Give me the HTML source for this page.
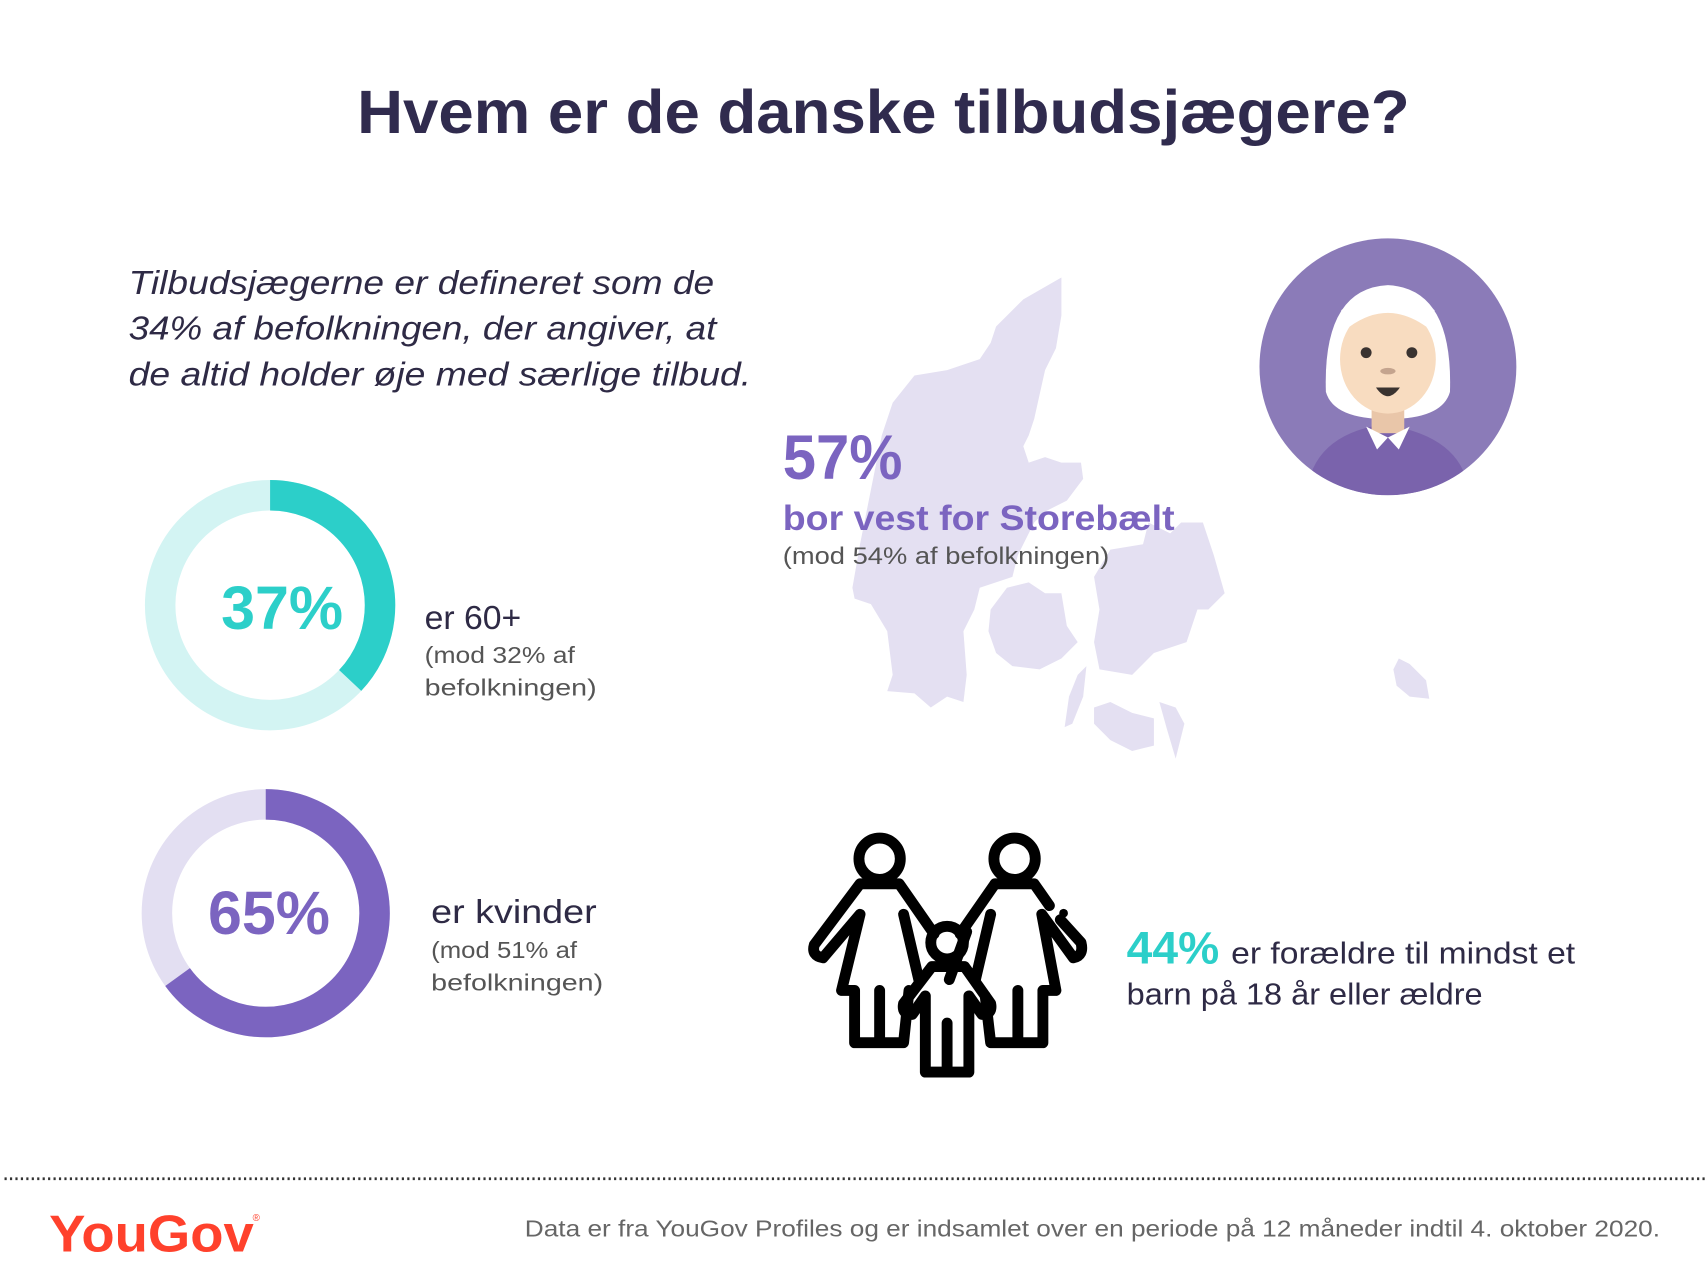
<!DOCTYPE html>
<html><head><meta charset="utf-8"><style>
html,body{margin:0;padding:0;background:#fff;width:1707px;height:1280px;overflow:hidden}
svg{display:block}
text{font-family:"Liberation Sans","DejaVu Sans",sans-serif}
</style></head><body>
<svg width="1707" height="1280" viewBox="0 0 1568 1176" xmlns="http://www.w3.org/2000/svg">
<rect width="1568" height="1176" fill="#fff"/>
<text x="328" y="122" font-size="56" font-weight="bold" fill="#302b4e" textLength="967" lengthAdjust="spacingAndGlyphs">Hvem er de danske tilbudsjægere?</text>
<g font-size="31" font-style="italic" fill="#2e2a45">
<text x="118" y="270" textLength="538" lengthAdjust="spacingAndGlyphs">Tilbudsjægerne er defineret som de</text>
<text x="118" y="312" textLength="540" lengthAdjust="spacingAndGlyphs">34% af befolkningen, der angiver, at</text>
<text x="118" y="354" textLength="572" lengthAdjust="spacingAndGlyphs">de altid holder øje med særlige tilbud.</text>
</g>
<!-- map -->
<g fill="#e4e0f2">
<polygon points="975,255 940,275 915,300 910,315 900,330 870,340 840,345 820,370 810,400 800,450 790,500 783,540 785,550 800,555 815,580 820,620 815,635 840,637 855,650 870,640 885,645 888,620 885,580 895,560 900,540 930,530 935,510 950,480 960,470 980,460 995,440 993,425 975,425 960,420 945,425 940,410 945,400 950,385 960,340 970,320 975,290"/>
<polygon points="910,560 925,540 945,535 960,545 975,545 980,575 990,590 975,605 955,615 930,612 915,600 908,580"/>
<polygon points="1005,530 1020,505 1050,500 1055,480 1075,490 1085,480 1105,480 1115,510 1125,545 1110,560 1100,560 1090,590 1060,600 1040,620 1010,615 1005,590 1010,560"/>
<polygon points="1005,650 1020,645 1040,655 1060,660 1060,685 1040,690 1020,680 1005,665"/>
<polygon points="1065,645 1080,650 1088,665 1080,697 1072,670"/>
<polygon points="1285,605 1295,610 1310,625 1313,642 1295,640 1283,630 1280,615"/>
<polygon points="990,620 998,612 995,640 985,665 978,668 982,640"/>
</g>
<!-- avatar -->
<defs><clipPath id="c"><circle cx="1275" cy="337" r="118"/></clipPath></defs>
<g clip-path="url(#c)">
<rect x="1150" y="215" width="250" height="240" fill="#8b7bb8"/>
<path d="M1200,455 Q1205,400 1270,390 Q1345,400 1350,455 Z" fill="#7a63ac"/>
<path d="M1218,360 Q1215,265 1275,262 Q1335,265 1332,360 Q1325,385 1275,385 Q1225,385 1218,360Z" fill="#fff"/>
<rect x="1260" y="370" width="30" height="28" fill="#e9c6a9"/>
<ellipse cx="1275" cy="330" rx="44" ry="50" fill="#f8dcc0"/>
<path d="M1240,300 Q1275,275 1310,300 L1318,285 Q1275,255 1232,285Z" fill="#fff"/>
<circle cx="1255" cy="324" r="5" fill="#3a3330"/><circle cx="1297" cy="324" r="5" fill="#3a3330"/>
<ellipse cx="1275" cy="341" rx="7" ry="3" fill="#c4a48e"/>
<path d="M1264,356 Q1275,372 1286,356Z" fill="#3a3330"/>
<path d="M1255,392 L1275,402 L1265,413Z M1295,392 L1275,402 L1285,413Z" fill="#fff"/>
</g>
<text x="719" y="440" font-size="58" font-weight="bold" fill="#7b64c0" textLength="110" lengthAdjust="spacingAndGlyphs">57%</text>
<text x="719" y="487" font-size="32" font-weight="bold" fill="#7b64c0" textLength="360" lengthAdjust="spacingAndGlyphs">bor vest for Storebælt</text>
<text x="719" y="518" font-size="22" fill="#555" textLength="300" lengthAdjust="spacingAndGlyphs">(mod 54% af befolkningen)</text>
<!-- donut 1 -->
<circle cx="248" cy="556" r="101" fill="none" stroke="#d3f4f3" stroke-width="28"/>
<circle cx="248" cy="556" r="101" fill="none" stroke="#2ccfc9" stroke-width="28" stroke-dasharray="234.8 1000" transform="rotate(-90 248 556)"/>
<text x="259" y="578" text-anchor="middle" font-size="56" font-weight="bold" fill="#2ccfc9">37%</text>
<text x="390" y="578" font-size="31" fill="#2e2a45">er 60+</text>
<text x="390" y="609" font-size="21" fill="#555" textLength="138" lengthAdjust="spacingAndGlyphs">(mod 32% af</text>
<text x="390" y="639" font-size="21" fill="#555" textLength="158" lengthAdjust="spacingAndGlyphs">befolkningen)</text>
<!-- donut 2 -->
<circle cx="244" cy="839" r="100" fill="none" stroke="#e3dff2" stroke-width="28"/>
<circle cx="244" cy="839" r="100" fill="none" stroke="#7b64c0" stroke-width="28" stroke-dasharray="408.4 1000" transform="rotate(-90 244 839)"/>
<text x="247" y="858" text-anchor="middle" font-size="56" font-weight="bold" fill="#7b64c0">65%</text>
<text x="396" y="848" font-size="31" fill="#2e2a45" textLength="152" lengthAdjust="spacingAndGlyphs">er kvinder</text>
<text x="396" y="880" font-size="21" fill="#555" textLength="134" lengthAdjust="spacingAndGlyphs">(mod 51% af</text>
<text x="396" y="910" font-size="21" fill="#555" textLength="158" lengthAdjust="spacingAndGlyphs">befolkningen)</text>
<!-- family -->
<g fill="none" stroke="#000" stroke-width="10" stroke-linejoin="round" stroke-linecap="round">
<circle cx="808" cy="789" r="19"/>
<circle cx="932" cy="789" r="19"/>
<circle cx="870" cy="866" r="15"/>
<path d="M790,812 L826,812 L858,858 M790,812 L748,868 Q745,878 756,880 L790,840 L773,910 L785,910 L785,958 L830,958 L835,910"/>
<path d="M830,840 L844,900 M872,900 L888,856"/>
<path d="M914,812 L950,812 L964,832 M974,845 L993,866 Q996,878 986,880 L957,840 L970,910 L958,910 L958,958 L910,958 L905,915"/>
<path d="M914,812 L882,858 M910,840 L896,900"/>
<path d="M856,888 L886,888 L910,922 Q912,932 902,932 L890,915 L890,985 L850,985 L850,915 L838,932 Q828,932 830,922 Z"/>
<path d="M808,910 L808,955 M935,910 L935,955 M870,940 L870,983"/>
</g>
<circle cx="977" cy="839" r="4" fill="#000"/>
<text x="1035" y="885" font-size="42" font-weight="bold" fill="#2ccfc9" textLength="85" lengthAdjust="spacingAndGlyphs">44%</text>
<text x="1131" y="885" font-size="28" fill="#2e2a45" textLength="316" lengthAdjust="spacingAndGlyphs">er forældre til mindst et</text>
<text x="1035" y="923" font-size="28" fill="#2e2a45" textLength="327" lengthAdjust="spacingAndGlyphs">barn på 18 år eller ældre</text>
<line x1="4" y1="1083" x2="1568" y2="1083" stroke="#333" stroke-width="2.5" stroke-dasharray="2 3"/>
<text x="45" y="1150" font-size="48" font-weight="bold" fill="#ff412c" textLength="188" lengthAdjust="spacingAndGlyphs">YouGov</text>
<text x="232" y="1122" font-size="9" fill="#ff412c">®</text>
<text x="1525" y="1136" text-anchor="end" font-size="21" fill="#666" textLength="1043" lengthAdjust="spacingAndGlyphs">Data er fra YouGov Profiles og er indsamlet over en periode på 12 måneder indtil 4. oktober 2020.</text>
</svg>
</body></html>
